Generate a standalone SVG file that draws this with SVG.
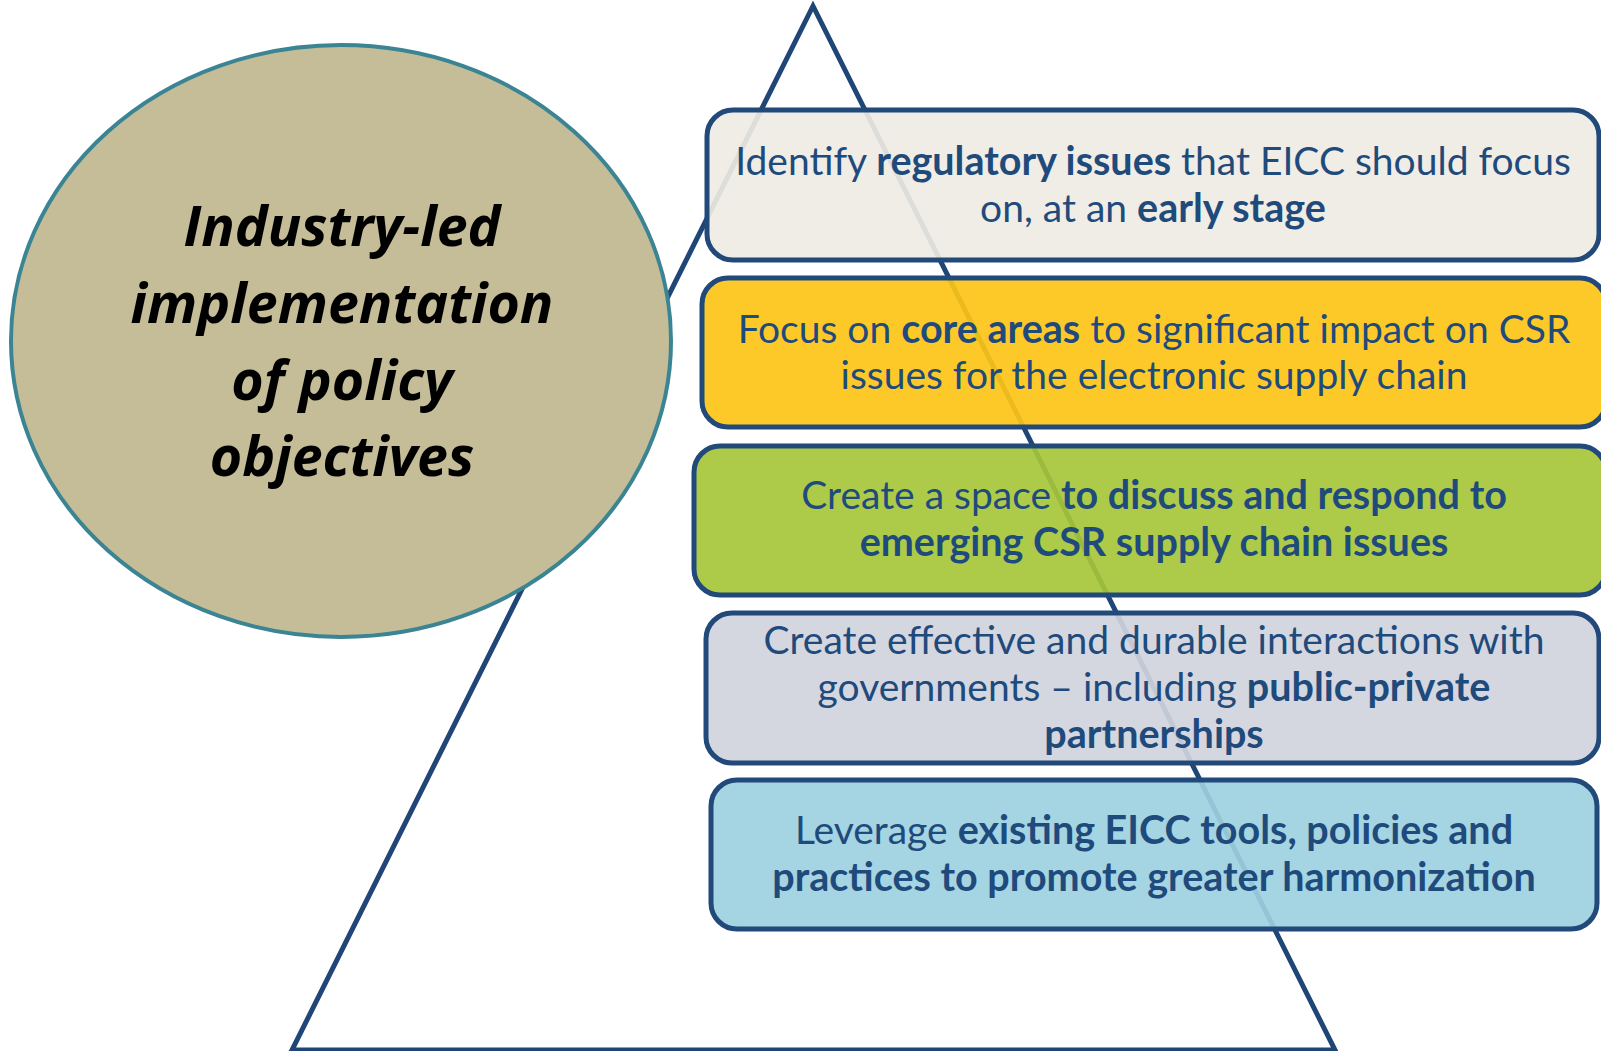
<svg xmlns="http://www.w3.org/2000/svg" width="1601" height="1051" viewBox="0 0 1601 1051">
<style>
.box{stroke:#21497a;stroke-width:5;fill-opacity:0.92}
.t{font-family:Lato,"Open Sans",sans-serif;font-size:39px;fill:#1f4a7c;text-anchor:middle}
.b{font-weight:bold;font-size:39.5px}
.h{font-family:"Open Sans","Liberation Sans",sans-serif;font-size:55.5px;font-weight:bold;font-style:italic;fill:#000;text-anchor:middle}
</style>
<rect width="1601" height="1051" fill="#fff"/>
<g id="connectors">
<polygon points="813,6 292,1050 1335,1050" fill="none" stroke="#1f4677" stroke-width="5" stroke-linejoin="miter"/>
</g>
<g id="ellipse">
<ellipse cx="341" cy="341" rx="330" ry="296" fill="#c4bd97" stroke="#3a8494" stroke-width="4"/>
<text class="h" x="342" y="246">Industry-led</text>
<text class="h" x="342" y="323">implementation</text>
<text class="h" x="342" y="400">of policy</text>
<text class="h" x="342" y="476">objectives</text>
</g>
<g id="box1">
<rect class="box" x="707" y="110" width="892" height="150" rx="26" fill="#eeece3"/>
<text class="t" x="1153" y="175">Identify <tspan class="b">regulatory issues</tspan> that EICC should focus</text>
<text class="t" x="1153" y="222">on, at an <tspan class="b">early stage</tspan></text>
</g>
<g id="box2">
<rect class="box" x="702" y="278" width="904" height="149" rx="26" fill="#fdc416"/>
<text class="t" x="1154" y="343">Focus on <tspan class="b">core areas</tspan> to significant impact on CSR</text>
<text class="t" x="1154" y="389">issues for the electronic supply chain</text>
</g>
<g id="box3">
<rect class="box" x="694" y="446" width="912" height="149" rx="26" fill="#a6c63a"/>
<text class="t" x="1154" y="509">Create a space <tspan class="b">to discuss and respond to</tspan></text>
<text class="t b" x="1154" y="556">emerging CSR supply chain issues</text>
</g>
<g id="box4">
<rect class="box" x="706" y="613" width="893" height="150" rx="26" fill="#d0d4dc"/>
<text class="t" x="1154" y="654">Create effective and durable interactions with</text>
<text class="t" x="1154" y="701">governments – including <tspan class="b">public-private</tspan></text>
<text class="t b" x="1154" y="748">partnerships</text>
</g>
<g id="box5">
<rect class="box" x="711" y="780" width="886" height="149" rx="26" fill="#9dd0e0"/>
<text class="t" x="1154" y="844">Leverage <tspan class="b">existing EICC tools, policies and</tspan></text>
<text class="t b" x="1154" y="891">practices to promote greater harmonization</text>
</g>
</svg>
